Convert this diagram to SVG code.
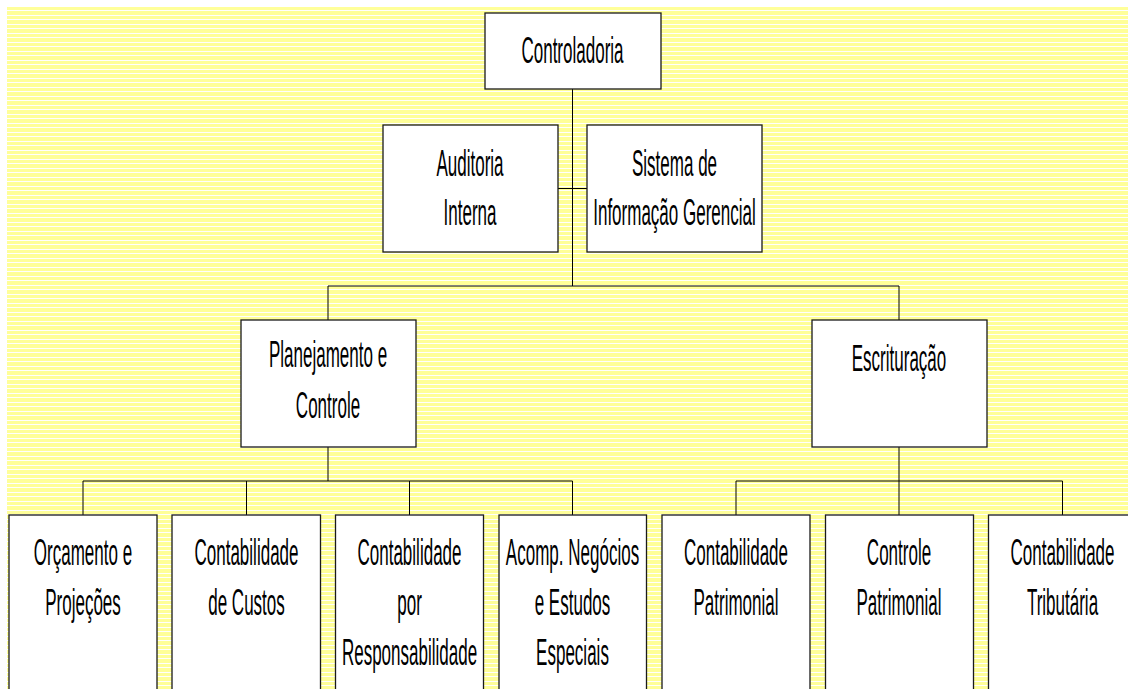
<svg xmlns="http://www.w3.org/2000/svg" width="1128" height="689" viewBox="0 0 1128 689">
<defs>
<pattern id="stripes" patternUnits="userSpaceOnUse" x="0" y="7" width="20" height="9">
<rect x="0" y="0" width="20" height="9" fill="#FFFF99"/>
<rect x="0" y="3" width="20" height="1" fill="#FFFFFF"/>
<rect x="0" y="8" width="20" height="1" fill="#FFFFFF"/>
</pattern>
</defs>
<style>
.box{fill:#FFFFFF;stroke:#1a1a1a;stroke-width:1.3}
.lbl{font-family:"Liberation Sans",Arial,sans-serif;font-size:37px;fill:#000000;text-anchor:middle}
.con{stroke:#000000;stroke-width:1;fill:none}
</style>
<rect x="7" y="7" width="1121" height="682" fill="url(#stripes)"/>
<g id="connectors">
<path class="con" d="M572.5,89 V286 M558,188.5 H587 M328,286 H899 M328,286 V320 M899,286 V320 M328,447 V481 M83,481 H572.5 M83,481 V515 M246.5,481 V515 M409.5,481 V515 M572.5,481 V515 M899,447 V481 M736,481 H1062.5 M736,481 V515 M899,481 V515 M1062.5,481 V515"/>
</g>
<g id="controladoria">
<rect class="box" x="485" y="13" width="176" height="76"/>
<text class="lbl" transform="translate(572.5,63) scale(0.46,1)">Controladoria</text>
</g>
<g id="auditoria">
<rect class="box" x="383" y="125" width="175" height="127"/>
<text class="lbl" transform="translate(470,175.5) scale(0.46,1)">Auditoria</text>
<text class="lbl" transform="translate(470,225) scale(0.46,1)">Interna</text>
</g>
<g id="sistema">
<rect class="box" x="587" y="125" width="175" height="127"/>
<text class="lbl" transform="translate(674.5,175.5) scale(0.46,1)">Sistema de</text>
<text class="lbl" transform="translate(674.5,225) scale(0.46,1)">Informação Gerencial</text>
</g>
<g id="planejamento">
<rect class="box" x="241" y="320" width="175" height="127"/>
<text class="lbl" transform="translate(328,367) scale(0.46,1)">Planejamento e</text>
<text class="lbl" transform="translate(328,418) scale(0.46,1)">Controle</text>
</g>
<g id="escrituracao">
<rect class="box" x="812" y="320" width="175" height="127"/>
<text class="lbl" transform="translate(899,370.5) scale(0.46,1)">Escrituração</text>
</g>
<g id="orcamento">
<rect class="box" x="9" y="515" width="148" height="190"/>
<text class="lbl" transform="translate(83,565) scale(0.46,1)">Orçamento e</text>
<text class="lbl" transform="translate(83,614.5) scale(0.46,1)">Projeções</text>
</g>
<g id="custos">
<rect class="box" x="172" y="515" width="148.5" height="190"/>
<text class="lbl" transform="translate(246.5,565) scale(0.46,1)">Contabilidade</text>
<text class="lbl" transform="translate(246.5,614.5) scale(0.46,1)">de Custos</text>
</g>
<g id="responsabilidade">
<rect class="box" x="335.5" y="515" width="148" height="190"/>
<text class="lbl" transform="translate(409.5,565) scale(0.46,1)">Contabilidade</text>
<text class="lbl" transform="translate(409.5,614.5) scale(0.46,1)">por</text>
<text class="lbl" transform="translate(409.5,665) scale(0.46,1)">Responsabilidade</text>
</g>
<g id="acomp">
<rect class="box" x="499" y="515" width="147.5" height="190"/>
<text class="lbl" transform="translate(572.5,565) scale(0.46,1)">Acomp. Negócios</text>
<text class="lbl" transform="translate(572.5,614.5) scale(0.46,1)">e Estudos</text>
<text class="lbl" transform="translate(572.5,665) scale(0.46,1)">Especiais</text>
</g>
<g id="cont-patrimonial">
<rect class="box" x="662" y="515" width="148" height="190"/>
<text class="lbl" transform="translate(736,565) scale(0.46,1)">Contabilidade</text>
<text class="lbl" transform="translate(736,614.5) scale(0.46,1)">Patrimonial</text>
</g>
<g id="controle-patrimonial">
<rect class="box" x="825.5" y="515" width="148" height="190"/>
<text class="lbl" transform="translate(899,565) scale(0.46,1)">Controle</text>
<text class="lbl" transform="translate(899,614.5) scale(0.46,1)">Patrimonial</text>
</g>
<g id="tributaria">
<rect class="box" x="988.5" y="515" width="148" height="190"/>
<text class="lbl" transform="translate(1062.5,565) scale(0.46,1)">Contabilidade</text>
<text class="lbl" transform="translate(1062.5,614.5) scale(0.46,1)">Tributária</text>
</g>
</svg>
